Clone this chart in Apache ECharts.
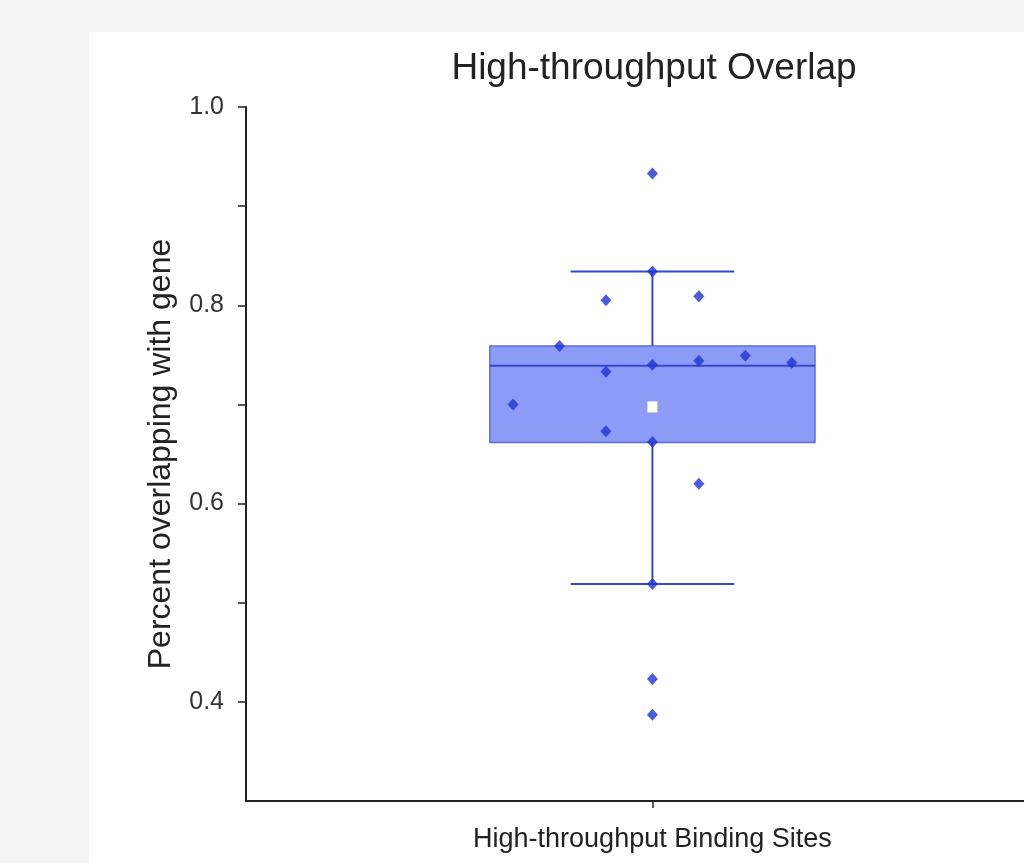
<!DOCTYPE html>
<html>
<head>
<meta charset="utf-8">
<script src="https://cdn.jsdelivr.net/npm/echarts@6/dist/echarts.min.js"></script>
<style>
  html, body { margin: 0; padding: 0; background: #f4f4f4; }
  #chart { width: 1024px; height: 863px; }
</style>
</head>
<body>
<div id="chart"></div>
<script>
// values
const categoryName = 'High-throughput Binding Sites';
const pointValues = [0.933, 0.834, 0.805, 0.809, 0.759, 0.733, 0.740, 0.744, 0.749, 0.742, 0.700, 0.673, 0.662, 0.620, 0.519, 0.423, 0.387];
const pointOffsets = [0, 0, -1, 1, -2, -1, 0, 1, 2, 3, -3, -1, 0, 1, 0, 0, 0];
// [lower whisker, q1, median, q3, upper whisker, mean]
const boxStats = [0.519, 0.6615, 0.739, 0.759, 0.834, 0.697];
const yTicks = [0.4, 0.5, 0.6, 0.7, 0.8, 0.9, 1.0];
const yLabels = [0.4, 0.6, 0.8, 1.0];

const chart = echarts.init(document.getElementById('chart'));
const blue = '#3347d4';

const option = {
  backgroundColor: '#f4f4f4',
  animation: false,
  graphic: [{
    type: 'rect', z: -10, silent: true,
    shape: { x: 89, y: 32, width: 1000, height: 900 },
    style: { fill: '#ffffff' }
  }],
  title: {
    text: 'High-throughput Overlap',
    left: 649, top: 45, textAlign: 'center',
    textStyle: { fontFamily: 'Liberation Sans', fontSize: 37, fontWeight: 'normal', color: '#222' }
  },
  grid: { left: 246, right: 0, top: 107, bottom: 62 },
  xAxis: {
    type: 'value', min: -8.75, max: 8,
    splitLine: { show: false },
    axisLine: { onZero: false, lineStyle: { color: '#222', width: 2 } },
    axisTick: { customValues: [0], length: 7, lineStyle: { color: '#222', width: 1.5 } },
    axisLabel: {
      customValues: [0], formatter: () => categoryName, margin: 25,
      fontFamily: 'Liberation Sans', fontSize: 27, color: '#222'
    }
  },
  yAxis: {
    type: 'value', min: 0.3, max: 1.0, interval: 0.1,
    name: 'Percent overlapping with gene',
    nameLocation: 'middle', nameGap: 69,
    nameTextStyle: { fontFamily: 'Liberation Sans', fontSize: 32, color: '#222' },
    splitLine: { show: false },
    axisLine: { show: true, onZero: false, lineStyle: { color: '#222', width: 2 } },
    axisTick: { show: true, customValues: yTicks, length: 8, lineStyle: { color: '#222', width: 1.5 } },
    axisLabel: {
      customValues: yLabels, margin: 22,
      formatter: v => v.toFixed(1),
      fontFamily: 'Liberation Sans', fontSize: 25, color: '#333'
    }
  },
  series: [
    {
      type: 'custom',
      z: 1,
      data: [boxStats],
      renderItem: function (params, api) {
        const lo = api.value(0), q1 = api.value(1), med = api.value(2),
              q3 = api.value(3), hi = api.value(4), mean = api.value(5);
        const boxL = api.coord([-3.5, q3]), boxR = api.coord([3.5, q1]);
        const capL = -1.76, capR = 1.76;
        const pLo = api.coord([0, lo]), pHi = api.coord([0, hi]);
        const pQ1 = api.coord([0, q1]), pQ3 = api.coord([0, q3]);
        const mL = api.coord([-3.5, med]), mR = api.coord([3.5, med]);
        const cLoL = api.coord([capL, lo]), cLoR = api.coord([capR, lo]);
        const cHiL = api.coord([capL, hi]), cHiR = api.coord([capR, hi]);
        const pMean = api.coord([0, mean]);
        const ls = { stroke: blue, lineWidth: 2 };
        return {
          type: 'group',
          children: [
            { type: 'rect', shape: { x: boxL[0], y: boxL[1], width: boxR[0] - boxL[0], height: boxR[1] - boxL[1] },
              style: { fill: 'rgba(120,138,245,0.85)', stroke: '#5a6ee0', lineWidth: 1.5 } },
            { type: 'line', shape: { x1: pQ3[0], y1: pQ3[1], x2: pHi[0], y2: pHi[1] }, style: ls },
            { type: 'line', shape: { x1: pQ1[0], y1: pQ1[1], x2: pLo[0], y2: pLo[1] }, style: ls },
            { type: 'line', shape: { x1: cHiL[0], y1: cHiL[1], x2: cHiR[0], y2: cHiR[1] }, style: ls },
            { type: 'line', shape: { x1: cLoL[0], y1: cLoL[1], x2: cLoR[0], y2: cLoR[1] }, style: ls },
            { type: 'line', shape: { x1: mL[0], y1: mL[1], x2: mR[0], y2: mR[1] }, style: ls },
            { type: 'rect', shape: { x: pMean[0] - 5, y: pMean[1] - 6, width: 10, height: 11 },
              style: { fill: '#ffffff' } }
          ]
        };
      }
    },
    {
      type: 'scatter',
      z: 3,
      symbol: 'diamond',
      symbolSize: [11, 12],
      itemStyle: { color: '#1f33d6' },
      data: pointValues.map((v, i) => [pointOffsets[i], v])
    }
  ]
};
chart.setOption(option);
</script>
</body>
</html>
